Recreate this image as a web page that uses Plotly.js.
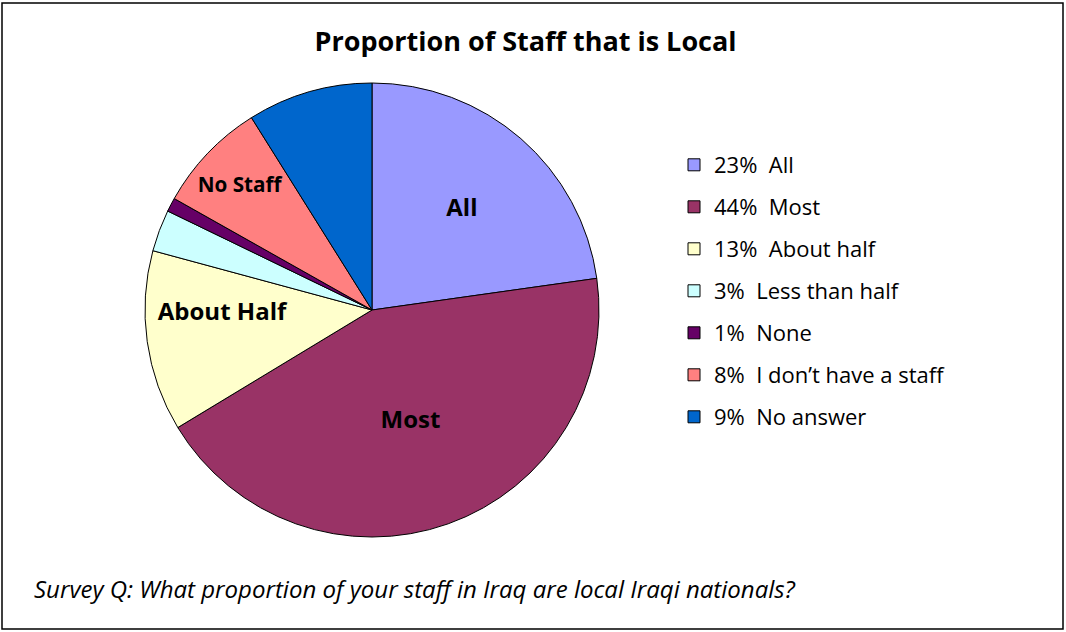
<!DOCTYPE html>
<html>
<head>
<meta charset="utf-8">
<script src="https://cdn.plot.ly/plotly-3.0.1.min.js"></script>
<style>html,body{margin:0;padding:0;background:#fff;}#chart{width:1066px;height:632px;}</style>
</head>
<body>
<div id="chart"></div>
<script>
const categories = ["All", "Most", "About half", "Less than half", "None", "I don\u2019t have a staff", "No answer"];
const values = [23, 44, 13, 3, 1, 8, 9];
const sliceLabels = ["All", "Most", "About Half", "", "", "No Staff", ""];
const colors = ["#9999FF", "#993366", "#FFFFCC", "#CCFFFF", "#660066", "#FF8080", "#0066CC"];

const W = 1066, H = 632;
const cx = 372, cy = 310, r = 227;
const FONT = "'Open Sans', 'Noto Sans', sans-serif";

const legendNames = categories.map((c, i) => values[i] + "%  " + c);

// legend entries: one tiny pie per category, hidden under the main pie,
// so that the legend rows can be spaced apart with tracegroupgap
const legendPies = legendNames.map((name, i) => ({
  type: "pie",
  labels: [name],
  values: [values[i]],
  textinfo: "none",
  showlegend: true,
  legendgroup: "g" + i,
  sort: false,
  marker: {colors: [colors[i]], line: {color: "#000000", width: 1}},
  domain: {x: [(cx + 60) / W, (cx + 61) / W], y: [(H - cy - 151) / H, (H - cy - 150) / H]},
  hoverinfo: "skip"
}));

const mainPie = {
  type: "pie",
  labels: legendNames,
  values: values,
  text: sliceLabels,
  textinfo: "text",
  textposition: "inside",
  insidetextorientation: "horizontal",
  sort: false,
  direction: "clockwise",
  rotation: 0,
  showlegend: false,
  marker: {colors: colors, line: {color: "#000000", width: 1}},
  textfont: {family: FONT, size: 24, color: "#000000", weight: "bold"},
  domain: {x: [(cx - r) / W, (cx + r) / W], y: [(H - cy - r) / H, (H - cy + r) / H]},
  hoverinfo: "label+percent"
};

const layout = {
  width: W, height: H,
  margin: {l: 0, r: 0, t: 0, b: 0},
  paper_bgcolor: "#ffffff",
  showlegend: true,
  font: {family: FONT, color: "#000000"},
  title: {text: "<b>Proportion of Staff that is Local</b>", x: 0.493, xanchor: "center", y: 1 - 42 / H, yanchor: "middle",
          font: {family: FONT, size: 27, color: "#000000"}},
  legend: {x: 674 / W, xanchor: "left", y: 1 - 144 / H, yanchor: "top",
           font: {family: FONT, size: 22, color: "#000000"},
           bgcolor: "rgba(0,0,0,0)", tracegroupgap: 10.4, traceorder: "grouped"},
  shapes: [{type: "rect", xref: "paper", yref: "paper", x0: 2 / W, x1: 1063 / W, y0: 1 - 629 / H, y1: 1 - 3 / H,
            line: {color: "#000000", width: 1.5}, fillcolor: "rgba(0,0,0,0)"}],
  annotations: [{xref: "paper", yref: "paper", x: 32 / W, xanchor: "left", y: 1 - 588 / H, yanchor: "middle",
                 text: "<i>Survey Q: What proportion of your staff in Iraq are local Iraqi nationals?</i>", showarrow: false,
                 font: {family: FONT, size: 24, color: "#000000"}}]
};

Plotly.newPlot("chart", legendPies.concat([mainPie]), layout, {displayModeBar: false});
</script>
</body>
</html>
